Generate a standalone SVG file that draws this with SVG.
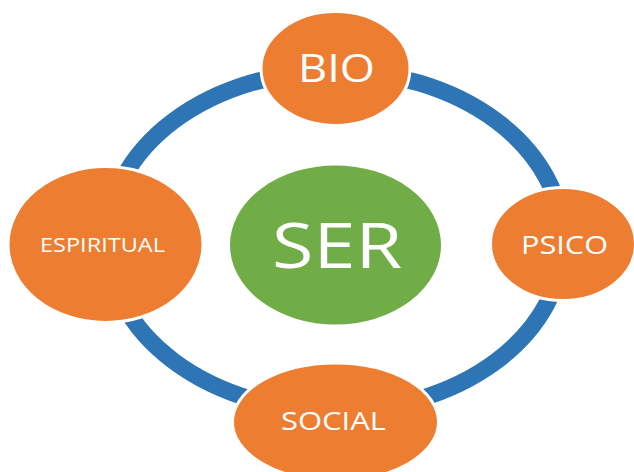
<svg xmlns="http://www.w3.org/2000/svg" width="634" height="472" viewBox="0 0 634 472">
<style>
.node{fill:#ED7D31;stroke:#FFFFFF;stroke-width:3}
.center{fill:#70AD47;stroke:#FFFFFF;stroke-width:3}
.lbl{fill:#FFFFFF;font-family:"Open Sans","Liberation Sans",sans-serif;text-anchor:middle}
</style>
<rect width="634" height="472" fill="#FFFFFF"/>
<g id="connectors">
<ellipse cx="335" cy="241" rx="228" ry="170" fill="none" stroke="#2E75B6" stroke-width="17"/>
</g>
<g id="ser">
<ellipse class="center" cx="335.5" cy="245" rx="107" ry="81"/>
<text class="lbl" x="337" y="268" font-size="63" textLength="130" lengthAdjust="spacingAndGlyphs">SER</text>
</g>
<g id="bio">
<ellipse class="node" cx="335.5" cy="68.5" rx="74.5" ry="57"/>
<text class="lbl" x="336.5" y="82" font-size="38" textLength="77" lengthAdjust="spacingAndGlyphs">BIO</text>
</g>
<g id="psico">
<ellipse class="node" cx="563" cy="244" rx="72.5" ry="56.5"/>
<text class="lbl" x="564.5" y="254" font-size="25" textLength="87" lengthAdjust="spacingAndGlyphs">PSICO</text>
</g>
<g id="espiritual">
<ellipse class="node" cx="105.5" cy="244.5" rx="97.5" ry="78"/>
<text class="lbl" x="102.5" y="252" font-size="19.5" textLength="125" lengthAdjust="spacingAndGlyphs">ESPIRITUAL</text>
</g>
<g id="social">
<ellipse class="node" cx="335.5" cy="422" rx="103" ry="59"/>
<text class="lbl" x="333.5" y="430" font-size="25" textLength="105" lengthAdjust="spacingAndGlyphs">SOCIAL</text>
</g>
</svg>
